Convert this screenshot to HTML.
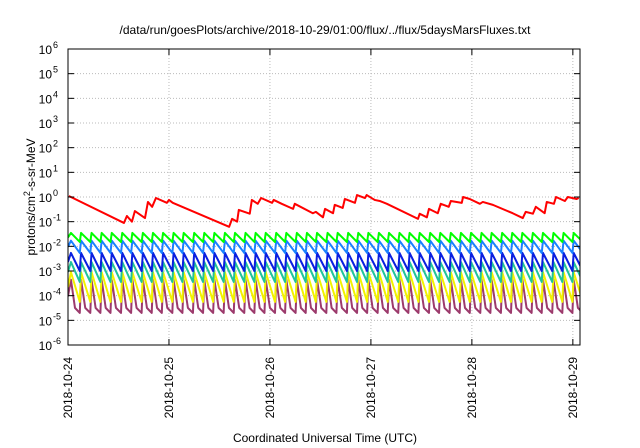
<!DOCTYPE html>
<html><head><meta charset="utf-8"><style>
body{margin:0;background:#fff;}
svg{display:block;font-family:"Liberation Sans",Arial,sans-serif;}
</style></head><body>
<svg id="chart" width="640" height="448" viewBox="0 0 640 448">
<rect x="0" y="0" width="640" height="448" fill="#fff"/>
<text x="325" y="34" text-anchor="middle" font-size="12">/data/run/goesPlots/archive/2018-10-29/01:00/flux/../flux/5daysMarsFluxes.txt</text>
<g id="grid"></g>
<g id="series"></g>
<rect x="68" y="49" width="512" height="296" fill="none" stroke="#000" stroke-width="1"/>
<g id="axes"></g>
<text transform="translate(35,197) rotate(-90)" text-anchor="middle" font-size="12">protons/cm<tspan dy="-5" font-size="9">2</tspan><tspan dy="5">-s-sr-MeV</tspan></text>
<text x="325" y="442" text-anchor="middle" font-size="12">Coordinated Universal Time (UTC)</text>
</svg>
<script>
const dayLabels = ["2018-10-24","2018-10-25","2018-10-26","2018-10-27","2018-10-28","2018-10-29"];
const yExponents = [-6,-5,-4,-3,-2,-1,0,1,2,3,4,5,6];
const redHours = [0.2,13.3,14.0,15.2,15.9,18.3,19.0,20.0,20.9,23.5,24.0,24.9,38.3,39.0,40.2,40.6,43.2,43.7,45.1,45.9,48.5,48.9,50.8,53.5,53.9,58.2,58.9,60.6,61.1,63.0,63.4,65.3,65.8,68.2,68.7,70.6,71.0,72.9,74.1,75.8,83.2,83.6,85.3,85.8,87.9,88.6,90.5,91.0,93.6,93.9,95.5,97.9,98.6,101.0,105.7,108.1,108.8,110.5,111.2,113.3,113.8,115.5,116.0,118.1,118.8,120.9,121.4];
const redValues = [1.1,0.089,0.17,0.10,0.27,0.14,0.63,0.40,0.91,0.58,0.76,0.58,0.062,0.13,0.10,0.30,0.21,0.76,0.53,0.91,0.58,0.76,0.53,0.33,0.53,0.22,0.25,0.15,0.33,0.22,0.48,0.36,0.83,0.58,1.2,0.91,1.2,0.76,0.69,0.53,0.13,0.21,0.15,0.33,0.22,0.53,0.40,0.69,0.58,1.0,0.83,0.53,0.63,0.48,0.22,0.14,0.25,0.21,0.40,0.22,0.63,0.53,1.0,0.69,1.0,0.83,0.91];
const peakHours = [0.7,3.1,5.6,8.0,10.4,12.9,15.3,17.8,20.2,22.6,25.1,27.5,30.0,32.4,34.8,37.3,39.7,42.2,44.6,47.0,49.5,51.9,54.4,56.8,59.2,61.7,64.1,66.6,69.0,71.4,73.9,76.3,78.8,81.2,83.6,86.1,88.5,91.0,93.4,95.8,98.3,100.7,103.2,105.6,108.0,110.5,112.9,115.4,117.8,120.2,122.7];
const seriesNames = ["green","light-blue","blue","teal","yellow","purple"];
const seriesPeaks = [0.035,0.017,0.0054,0.0023,0.0009,0.00044];
const seriesTroughs = [0.015,0.0054,0.001,0.00036,0.000056,0.00002];
const seriesColors = ["#00ff00","#1a80ff","#0a1fe0","#20c49a","#f2f200","#9c3a6c"];

const X0=68, X1=580, Y0=345, Y1=49, HMAX=121.7;
const xs = h => X0 + (h/HMAX)*(X1-X0);
const ys = v => Y0 - (Math.log10(v)+6)/12*(Y0-Y1);
const NS="http://www.w3.org/2000/svg";
const grid=document.getElementById('grid'), axes=document.getElementById('axes'), ser=document.getElementById('series');
function mk(tag,attrs,parent){const e=document.createElementNS(NS,tag);for(const k in attrs)e.setAttribute(k,attrs[k]);parent.appendChild(e);return e;}

yExponents.forEach(p=>{
  const y=ys(Math.pow(10,p));
  if(p>-6&&p<6){const g=mk('line',{x1:X0,x2:X1,y1:y,y2:y,stroke:'#bbb','stroke-dasharray':'1,2','stroke-width':1},grid);
  
  }
  const t1=mk('line',{x1:X0,x2:X0+6,y1:y,y2:y,stroke:'#000'},axes);
  
  
  const t2=mk('line',{x1:X1-6,x2:X1,y1:y,y2:y,stroke:'#000'},axes);
  
  
  const tx=mk('text',{x:X0-16,y:y+5,'text-anchor':'end','font-size':12},axes);
  
  
  tx.textContent='10';
  const sp=mk('tspan',{x:X0-15,dy:-6,'font-size':9,'text-anchor':'start'},tx);
  sp.textContent=String(p);
});
dayLabels.forEach((d,i)=>{
  const x=xs(i*24);
  if(i>0){const g=mk('line',{x1:x,x2:x,y1:Y1,y2:Y0,stroke:'#bbb','stroke-dasharray':'1,2'},grid);
  
  }
  const t=mk('line',{x1:x,x2:x,y1:Y0-6,y2:Y0,stroke:'#000'},axes);
  
  
  const t2=mk('line',{x1:x,x2:x,y1:Y1,y2:Y1+6,stroke:'#000'},axes);
  
  
  const tx=mk('text',{transform:`translate(${x+4},357) rotate(-90)`,'text-anchor':'end','font-size':12},axes);
  
  
  tx.textContent=d;
});
const defs=mk('defs',{},ser);
const cp=mk('clipPath',{id:'clip'},defs);
mk('rect',{x:X0,y:Y1,width:X1-X0,height:Y0-Y1},cp);
const g=mk('g',{'clip-path':'url(#clip)'},ser);
// periodic series (drawn bottom first)
for(let s=seriesNames.length-1;s>=0;s--){
  const pk=seriesPeaks[s], tr=seriesTroughs[s];
  let pts=[[xs(0),ys(Math.sqrt(pk*tr))]];
  for(let i=0;i<peakHours.length;i++){
    const h=peakHours[i];
    pts.push([xs(h),ys(pk)]);
    if(i+1<peakHours.length){
      const nh=peakHours[i+1];
      if(s===5){const mid=h+(nh-h)*0.4;pts.push([xs(mid),ys(tr*1.6)]);}
      pts.push([xs(nh-0.3),ys(tr)]);
    }
  }
  const p=mk('polyline',{points:pts.map(q=>q.join(',')).join(' '),fill:'none',stroke:seriesColors[s],'stroke-width':2,'stroke-linejoin':'round'},g);
  
  
}
const rp=mk('polyline',{points:redHours.map((h,i)=>xs(h)+','+ys(redValues[i])).join(' '),fill:'none',stroke:'#ff0000','stroke-width':2,'stroke-linejoin':'round'},g);


</script>
</body></html>
